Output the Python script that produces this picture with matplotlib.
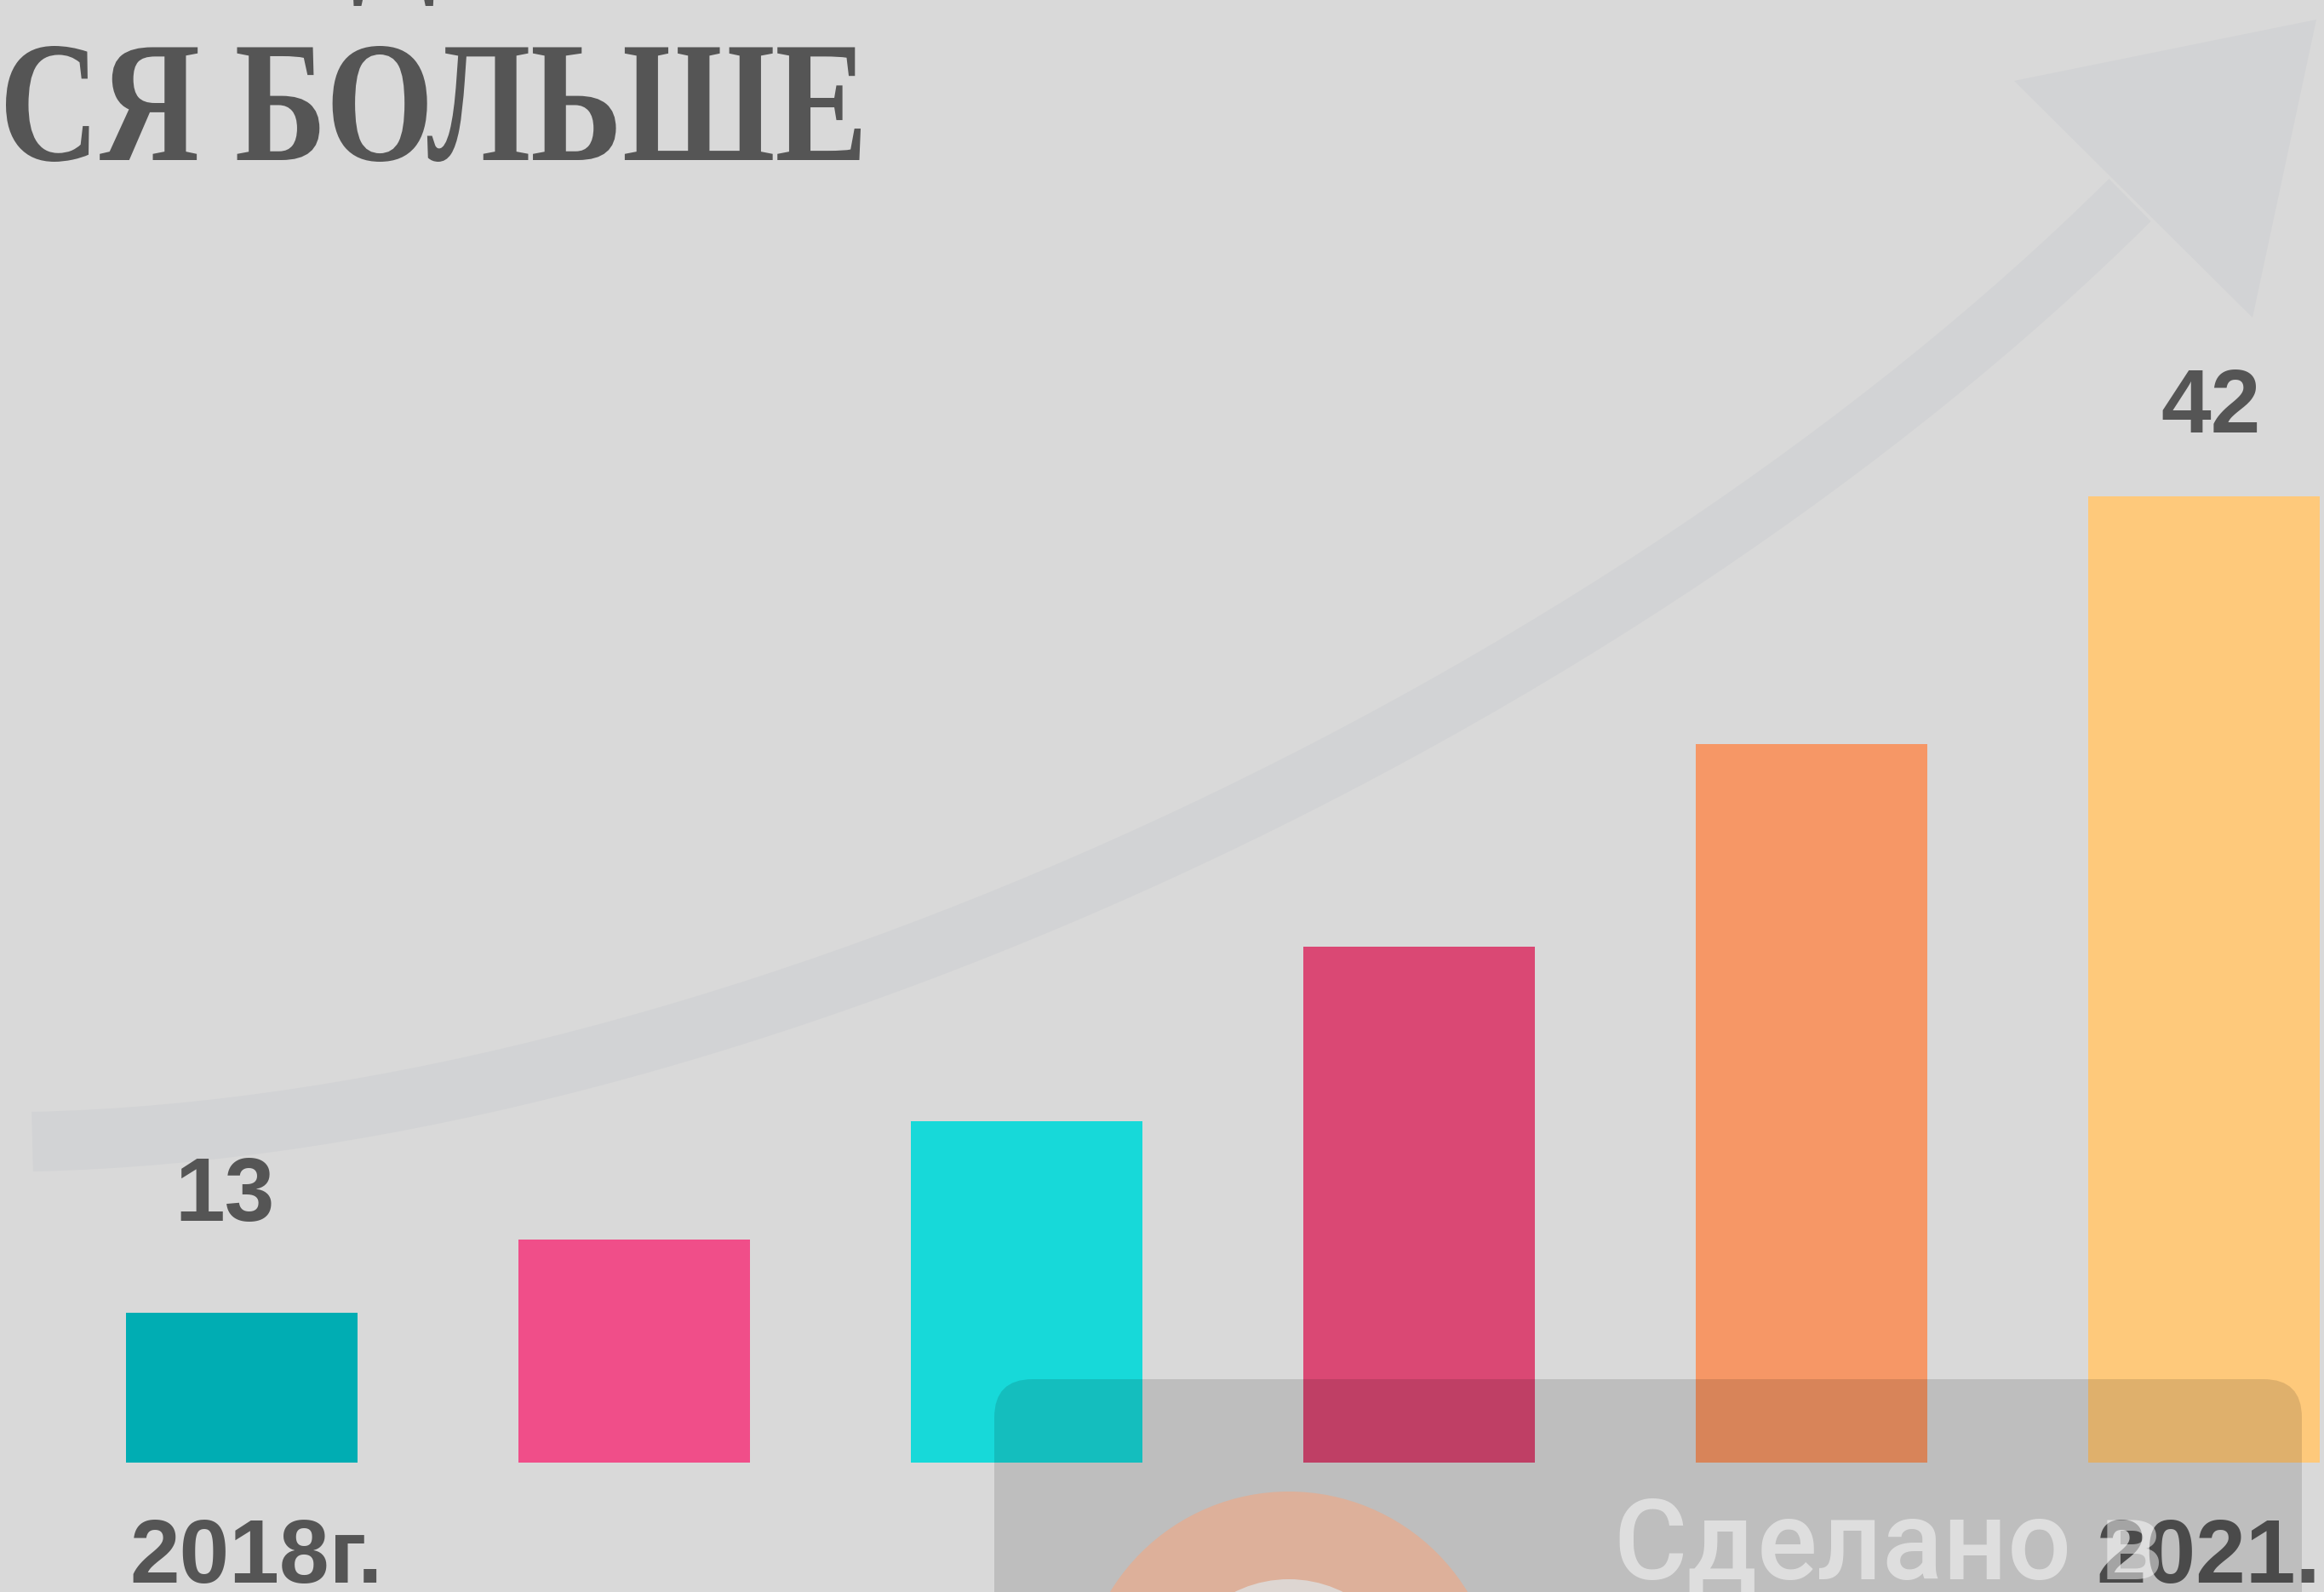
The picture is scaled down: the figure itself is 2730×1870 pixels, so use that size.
import matplotlib
matplotlib.use("Agg")
import numpy as np
import matplotlib.pyplot as plt
import matplotlib.transforms as mtransforms
from matplotlib.patches import PathPatch, Polygon, FancyBboxPatch, Circle
from matplotlib.path import Path
from matplotlib.textpath import TextPath
from matplotlib.font_manager import FontProperties

# values (only first and last are printed on it)
years = ["2018г.", "", "", "", "", "2021."]
values = [13, 15.6, 19.8, 26.0, 33.2, 42]
shown_values = ["13", "", "", "", "", "42"]
bar_colors = ["#00adb3", "#f04e89", "#17d9d9", "#da4874", "#f69766", "#fec97b"]
baseline = 7.7
title = "ТСЯ БОЛЬШЕ"

W, H = 2730, 1870
BG = "#d9d9d9"
TXT = "#555555"
ARROW = "#d2d3d5"

fig = plt.figure(figsize=(W / 100, H / 100), dpi=100, facecolor=BG)
ax = fig.add_axes([0, 0, 1, 1])
ax.set_facecolor(BG)
ax.axis("off")
# pixel space of the output image, origin bottom-left
pix = mtransforms.Affine2D().scale(1 / 100) + fig.dpi_scale_trans

x = np.arange(len(values))
ax.set_xlim(-0.616, 5.306)
ax.set_ylim(3.1, 59.6)

# big curved arrow in the background
band = Path([(38, 529), (870, 547), (1915, 1052), (2502, 1635)],
            [Path.MOVETO, Path.CURVE4, Path.CURVE4, Path.CURVE4])
ax.add_patch(PathPatch(band, fc="none", ec=ARROW, lw=70 * 0.72,
                       capstyle="butt", transform=pix, zorder=1))
ax.add_patch(Polygon([(2721, 1847), (2366, 1775), (2646, 1497)], closed=True,
                     fc=ARROW, ec="none", transform=pix, zorder=1))

# bars
ax.bar(x, np.array(values) - baseline, bottom=baseline, width=0.59,
       color=bar_colors, zorder=2)

lab_font = dict(fontsize=76, fontweight="bold", family="Liberation Sans", color=TXT)
val_offsets = {0: (-14, 78), 5: (6, 54)}
for i, s in enumerate(shown_values):
    if s:
        ax.annotate(s, (x[i], values[i]), xytext=val_offsets[i], textcoords="offset points",
                    ha="center", va="baseline", zorder=3, **lab_font)
year_offsets = {0: (12, -102), 5: (4, -102)}
for i, s in enumerate(years):
    if s:
        ax.annotate(s, (x[i], baseline), xytext=year_offsets[i], textcoords="offset points",
                    ha="center", va="baseline", zorder=3, **lab_font)

# condensed serif heading, cut by the left edge
fp = FontProperties(family="Liberation Serif", weight="bold")
full = TextPath((0, 0), title, size=100, prop=fp)
tail = TextPath((0, 0), title[1:], size=100, prop=fp)
fb, tb = full.get_extents(), tail.get_extents()
sx = 1004 / tb.width
sy = 136 / tb.height
tr = mtransforms.Affine2D().scale(sx, sy).translate(1011 - fb.x1 * sx, H - 188)
ax.add_patch(PathPatch(full, fc=TXT, ec="none", transform=tr + pix, zorder=3))

# descender of the line above, mostly off the canvas
de = TextPath((0, 0), "Д", size=100, prop=fp)
db = de.get_extents()
tr2 = mtransforms.Affine2D().scale(sx * 0.9, sy).translate(413 - db.x0 * sx * 0.9, H - 7 - db.y0 * sy)
ax.add_patch(PathPatch(de, fc=TXT, ec="none", transform=tr2 + pix, zorder=3))

# watermark panel at the bottom
ax.add_patch(FancyBboxPatch((1168, -100), 1536, 350, boxstyle="round,pad=0,rounding_size=45",
                            fc=(0, 0, 0, 0.12), ec="none", transform=pix, zorder=5))
ax.add_patch(Circle((1514, -128), 246, fc="#ddb09a", ec="none", transform=pix, zorder=6))
ax.add_patch(Circle((1514, -128), 143, fc="#ddd6d2", ec="none", transform=pix, zorder=6.1))
ax.text(1896, 15, "Сделано в", transform=pix, fontsize=95, family="Roboto",
        fontweight="medium", color=(1, 1, 1, 0.5), ha="left", va="baseline", zorder=7)

fig.savefig("out.png", dpi=100, facecolor=BG)
